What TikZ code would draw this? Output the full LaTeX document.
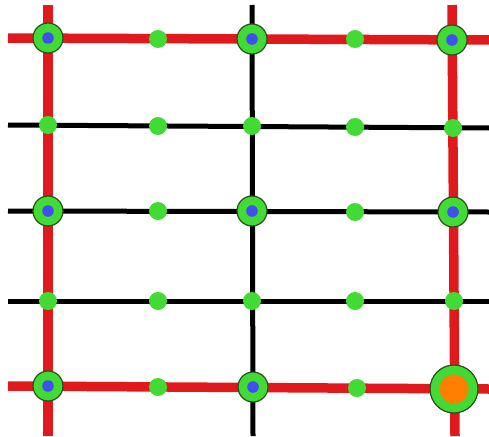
\documentclass[tikz,border=0pt]{standalone}
\definecolor{gr}{RGB}{66,218,52}
\definecolor{dg}{RGB}{40,80,30}
\definecolor{rd}{RGB}{224,26,28}
\definecolor{bl}{RGB}{64,80,240}
\definecolor{orng}{RGB}{255,128,0}
\tikzset{
  redline/.style={draw=rd,line width=9.5pt},
  blkline/.style={draw=black,line width=5pt},
  dot/.style={circle,fill=gr,draw=none,minimum size=18pt,inner sep=0pt},
  bignode/.style={circle,fill=gr,draw=dg,line width=1.2pt,minimum size=30pt,inner sep=0pt,
    path picture={\fill[bl] (path picture bounding box.center) circle (5.8pt);}},
  hugenode/.style={circle,fill=gr,draw=dg,line width=1.2pt,minimum size=48pt,inner sep=0pt,
    path picture={\fill[orng] (path picture bounding box.center) circle (14.5pt);}}
}
\begin{document}
\begin{tikzpicture}[x=1pt,y=-1pt]
\useasboundingbox (0,0) rectangle (489,436);
% end coordinates
\coordinate (L1) at (8,38);  \coordinate (R1) at (489,40);
\coordinate (L2) at (8,125); \coordinate (R2) at (489,128);
\coordinate (L3) at (8,211); \coordinate (R3) at (489,212);
\coordinate (L4) at (8,301); \coordinate (R4) at (489,301);
\coordinate (L5) at (8,386); \coordinate (R5) at (489,389);
\coordinate (T1) at (48,5);  \coordinate (B1) at (48,436);
\coordinate (T3) at (252,5); \coordinate (B3) at (253,436);
\coordinate (T5) at (452,5); \coordinate (B5) at (455,436);
% black lines
\draw[blkline] (L2) -- (R2);
\draw[blkline] (L3) -- (R3);
\draw[blkline] (L4) -- (R4);
\draw[blkline] (T3) -- (B3);
% red lines
\draw[redline] (T1) -- (B1);
\draw[redline] (T5) -- (B5);
\draw[redline] (L1) -- (R1);
\draw[redline] (L5) -- (R5);
% row 1
\node[bignode] (n11) at (48,38) {};
\node[dot] (n12) at (158,39) {};
\node[bignode] (n13) at (252,39) {};
\node[dot] (n14) at (355,39) {};
\node[bignode] (n15) at (452,40) {};
% row 2
\node[dot] (n21) at (48,125) {};
\node[dot] (n22) at (158,126) {};
\node[dot] (n23) at (252,126) {};
\node[dot] (n24) at (355,127) {};
\node[dot] (n25) at (453,128) {};
% row 3
\node[bignode] (n31) at (48,211) {};
\node[dot] (n32) at (158,211) {};
\node[bignode] (n33) at (252,211) {};
\node[dot] (n34) at (355,212) {};
\node[bignode] (n35) at (453,212) {};
% row 4
\node[dot] (n41) at (48,301) {};
\node[dot] (n42) at (158,301) {};
\node[dot] (n43) at (252,301) {};
\node[dot] (n44) at (355,301) {};
\node[dot] (n45) at (454,301) {};
% row 5
\node[bignode] (n51) at (48,386) {};
\node[dot] (n52) at (158,387) {};
\node[bignode] (n53) at (253,387) {};
\node[dot] (n54) at (357,388) {};
\node[hugenode] (n55) at (454,389) {};
\end{tikzpicture}
\end{document}
